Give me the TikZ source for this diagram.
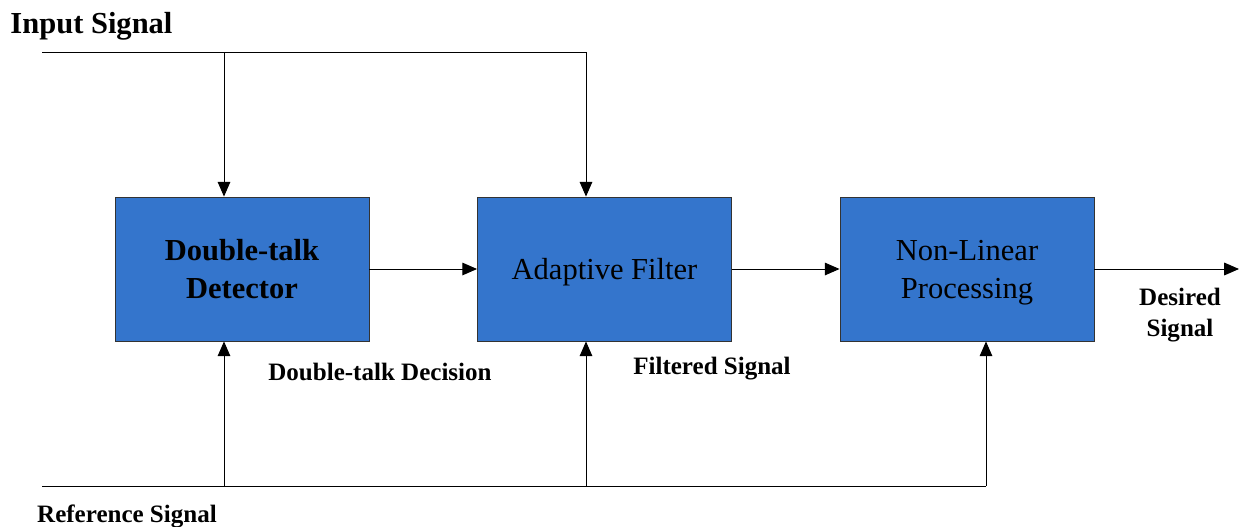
\documentclass[tikz,border=0pt]{standalone}
\usepackage{fontspec}
\setmainfont{Liberation Serif}
\usetikzlibrary{arrows.meta}
\definecolor{boxblue}{RGB}{52,117,204}

\begin{document}
\begin{tikzpicture}[x=0.025cm, y=-0.025cm, line width=0.7pt,
  blk/.style={draw=black!80, line width=0.6pt, fill=boxblue, minimum width=6.35cm,
    minimum height=3.6cm, inner sep=0pt, align=center, text depth=-4pt},
  boxfont/.style={font=\fontsize{21.7}{27}\selectfont},
  lbl/.style={font=\bfseries\fontsize{17.8}{22}\selectfont, align=center, inner sep=0pt},
  >={Triangle[length=10.5pt,width=9pt]}]
  \useasboundingbox (0,0) rectangle (1239,527);
  % Blocks
  \node[blk, font=\bfseries\fontsize{21.7}{27}\selectfont] (dtd) at (242,269) {Double-talk\\Detector};
  \node[blk, boxfont] (af) at (604.5,269) {Adaptive Filter};
  \node[blk, boxfont] (nlp) at (967,269) {Non-Linear\\Processing};
  % Signal lines
  \coordinate (inL) at (42,52);
  \coordinate (j1) at (224,52);
  \coordinate (inR) at (586,52);
  \coordinate (refL) at (42,486);
  \coordinate (k1) at (224,486);
  \coordinate (k2) at (586,486);
  \coordinate (refR) at (986,486);
  \coordinate (out) at (1239,269);
  \draw[->] (inL) -- (inR) -- (inR |- af.north);
  \draw[->] (j1) -- (j1 |- dtd.north);
  \draw (refL) -- (refR);
  \foreach \k/\b in {k1/dtd, k2/af, refR/nlp}
    \draw[->] (\k) -- (\k |- \b.south);
  \draw[->] (dtd) -- (af);
  \draw[->] (af) -- (nlp);
  \draw[->] (nlp.east) -- (out);
  % Labels
  \node[lbl, anchor=west, font=\bfseries\fontsize{21.7}{26}\selectfont] (lin) at (10,26) {Input Signal};
  \node[lbl] (lref) at (127,516) {Reference Signal};
  \node[lbl] (ldec) at (380,372) {Double-talk Decision};
  \node[lbl] (lfilt) at (712,369) {Filtered Signal};
  \node[lbl] (ldes) at (1180,315) {Desired\\Signal};
\end{tikzpicture}
\end{document}
